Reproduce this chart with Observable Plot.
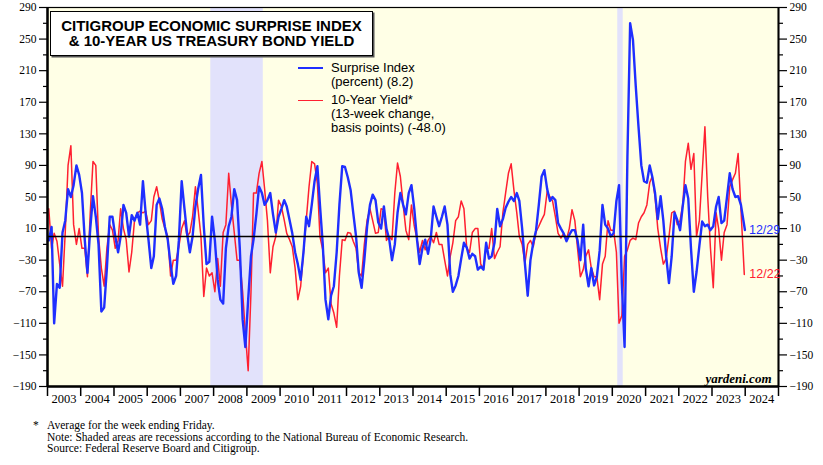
<!DOCTYPE html>
<html><head><meta charset="utf-8">
<script src="https://cdn.jsdelivr.net/npm/d3@7"></script>
<script src="https://cdn.jsdelivr.net/npm/@observablehq/plot@0.6"></script>
<style>
body{margin:0;background:#fff;}
#wrap{position:relative;width:823px;height:465px;overflow:hidden;font-family:"Liberation Sans",Arial,sans-serif;color:#000;}
#chart{position:absolute;left:0;top:0;}
.title{position:absolute;left:50px;top:11px;width:323px;height:45px;box-sizing:border-box;border:1.5px solid #000;box-shadow:1.5px 1.5px 0 #555;background:#fff;font-weight:bold;font-size:15px;line-height:15.5px;text-align:center;padding-top:5.5px;}
.leg{position:absolute;left:331px;font-size:13px;line-height:14px;white-space:nowrap;}
.legline{position:absolute;left:298px;width:25px;height:1.5px;}
.foot{position:absolute;left:47px;top:420px;font-family:"Liberation Serif","Times New Roman",serif;font-size:11.5px;line-height:11.7px;white-space:nowrap;}
.star{position:absolute;left:33px;top:419px;font-family:"Liberation Serif",serif;font-size:11.5px;}
</style></head>
<body>
<div id="wrap">
<div id="chart"></div>
<div class="title">CITIGROUP ECONOMIC SURPRISE INDEX<br>&amp; 10-YEAR US TREASURY BOND YIELD</div>
<div class="legline" style="top:67px;background:#1f2fff"></div>
<div class="leg" style="top:60.5px">Surprise Index<br>(percent) (8.2)</div>
<div class="legline" style="top:99.5px;background:#ff2030"></div>
<div class="leg" style="top:93px">10-Year Yield*<br>(13-week change,<br>basis points) (-48.0)</div>
<div class="star">*</div>
<div class="foot">Average for the week ending Friday.<br>Note: Shaded areas are recessions according to the National Bureau of Economic Research.<br>Source: Federal Reserve Board and Citigroup.</div>
</div>
<script>
// Citigroup Economic Surprise Index (percent), monthly readings Jan 2003 - Dec 2023
const surprise = [
  -5, 12, -110, -60, -65, 5, 20, 60, 50, 65, 90, 78,      // 2003
  55, -5, -46, 10, 51, 25, -10, -95, -90, -40, 25, 25,    // 2004
  0, -20, 0, 40, 30, 0, 27, 20, 30, 15, 70, 30,           // 2005
  -4, -40, -25, 40, 48, 35, 12, -4, -35, -60, -50, -5,    // 2006
  70, 35, 4, -20, 0, 38, 60, 78, 13, -35, -32, 25,        // 2007
  -5, -55, -80, -85, -15, 13, 25, 60, 46, -15, -105, -140,// 2008
  -80, -25, -4, 28, 63, 55, 40, 46, 55, 28, 5, 25,        // 2009
  35, 46, 38, 21, 4, -20, -35, -55, -20, 25, 13, 40,      // 2010
  70, 89, 40, -10, -80, -105, -75, -63, -20, 40, 89, 88,  // 2011
  75, 59, 30, 0, -46, -65, -30, 13, 40, 53, 46, 18,       // 2012
  10, 38, 10, -4, -30, -10, 30, 55, 40, 28, 55, 65,       // 2013
  35, -5, -35, -15, -4, -22, -3, 38, 25, 13, 25, 38,      // 2014
  15, -48, -70, -62, -50, -28, -8, -14, -28, -22, -25, -42, // 2015
  -38, -42, -8, -28, -25, -8, 35, 13, 22, 36, 44, 50,     // 2016
  45, 55, 45, 10, -34, -75, -30, -8, 8, 40, 76, 84,       // 2017
  60, 45, 50, 46, 17, 10, 4, -6, 2, 8, 8, -5,             // 2018
  -30, 15, -40, -63, -40, -62, -51, -18, 40, 15, 10, 0,   // 2019
  4, 45, 65, -60, -140, 100, 270, 249, 190, 139, 90, 70,  // 2020
  68, 90, 76, 55, 22, 51, 20, -25, -59, -25, 30, 21,      // 2021
  8, 40, 65, 48, -15, -70, -45, -12, 19, 13, 15, 8,       // 2022
  13, 38, 50, 17, 20, 50, 80, 60, 50, 51, 40, 8.2         // 2023
];
// 10-Year Treasury yield, 13-week change (basis points), monthly readings Jan 2003 - Dec 2023
const yieldChange = [
  35, -15, 4, -6, -35, -63, 5, 90, 115, 15, -10, 10,      // 2003
  -15, -15, -51, 30, 95, 90, 0, -40, -63, -15, 15, 8,     // 2004
  -15, -5, 35, 10, -4, -45, -20, 21, 30, 32, 30, 32,      // 2005
  15, 20, 50, 63, 45, 22, 10, 0, -50, -30, -30, -13,      // 2006
  10, 20, 0, 5, 25, 63, 34, 0, -76, -40, -50, -46,        // 2007
  -70, -28, -63, 5, 15, 80, 40, 5, -30, -30, -70, -122,   // 2008
  -170, -70, 55, 55, 80, 95, 60, 20, -46, -13, 0, 46,     // 2009
  38, 21, 4, -4, -13, -40, -80, -63, -20, 20, 63, 95,     // 2010
  92, 67, 0, -17, -46, -40, -85, -97, -115, -50, -4, -5,  // 2011
  5, 4, -6, -15, -46, -50, -10, 21, 35, 20, 4, 5,         // 2012
  35, 34, -5, 0, -4, 55, 93, 76, 40, 8, -4, 40,           // 2013
  13, -4, -20, -5, -17, -5, 0, -8, 5, -10, -10, -30,      // 2014
  -50, -25, -8, 20, 25, 45, 35, -15, -20, 5, 10, 10,      // 2015
  -35, -40, -15, -15, 10, -28, -20, -13, 30, 55, 80, 92,  // 2016
  58, 30, 0, -10, -34, -10, -5, -13, 6, 13, 21, 28,       // 2017
  57, 50, 45, 25, 4, -2, 4, -4, 10, 34, 20, -15,          // 2018
  -51, -42, -25, -17, -40, -51, -51, -80, -35, -25, 20, 8,// 2019
  8, -20, -110, -100, -25, -17, -5, -2, -4, 17, 25, 30,   // 2020
  40, 68, 76, 50, 10, -15, -35, -28, 0, 30, 32, 15,       // 2021
  20, 42, 95, 118, 85, 105, 0, 20, 80, 139, 50, -15,      // 2022
  -65, 30, 10, -30, 5, 15, 63, 72, 80, 105, 35, -48       // 2023
];
const firstYear = 2003;
const surpriseLastDate = "2023-12-29";
const yieldLastDate = "2023-12-22";
const surpriseLabel = "12/29";
const yieldLabel = "12/22";
const recessions = [
  {start: "2007-12-01", end: "2009-06-30"},
  {start: "2020-03-01", end: "2020-04-30"}
];
const yearLabels = d3.range(2003, 2025);
const yMajor = d3.range(-190, 291, 40);
const yMinor = d3.range(-170, 291, 40);

const BLUE = "#1f2fff", RED = "#ff2030";

function toSeries(vals, lastDate) {
  return vals.map((v, i) => ({
    date: i === vals.length - 1 ? new Date(lastDate + "T00:00:00Z") : new Date(Date.UTC(firstYear, i, 15)),
    value: v
  }));
}
const blueData = toSeries(surprise, surpriseLastDate);
const redData = toSeries(yieldChange, yieldLastDate);
const rec = recessions.map(r => ({start: new Date(r.start + "T00:00:00Z"), end: new Date(r.end + "T00:00:00Z")}));
const yearStarts = d3.range(yearLabels[0], yearLabels[yearLabels.length - 1] + 2).map(y => new Date(Date.UTC(y, 0, 1)));
const yearMids = yearLabels.map(y => new Date(Date.UTC(y, 6, 2)));
const xDomain = [yearStarts[0], yearStarts[yearStarts.length - 1]];
const yDomain = [yMajor[0], yMajor[yMajor.length - 1]];

const serif = '"Liberation Serif", "Times New Roman", serif';
const sans = '"Liberation Sans", Arial, sans-serif';

const chart = Plot.plot({
  width: 823, height: 410,
  marginLeft: 47, marginRight: 45, marginTop: 7, marginBottom: 24,
  style: {fontFamily: serif, fontSize: "12px", color: "#000", background: "transparent", overflow: "visible"},
  x: {type: "utc", domain: xDomain},
  y: {domain: yDomain},
  marks: [
    Plot.frame({fill: "#ffffe6", stroke: null}),
    Plot.rect(rec, {x1: "start", x2: "end", y1: yDomain[0], y2: yDomain[1], fill: "#e2e2fb"}),
    Plot.line(redData, {x: "date", y: "value", stroke: RED, strokeWidth: 1.5}),
    Plot.line(blueData, {x: "date", y: "value", stroke: BLUE, strokeWidth: 2.4}),
    Plot.ruleY([0], {stroke: "#000", strokeWidth: 1.5}),
    Plot.frame({stroke: "#000", strokeWidth: 1.2}),
    Plot.ruleX([xDomain[0]], {stroke: "#000", strokeWidth: 2.5}),
    Plot.ruleX([xDomain[1]], {stroke: "#000", strokeWidth: 2}),
    Plot.ruleY([yDomain[0]], {stroke: "#000", strokeWidth: 2.5}),
    Plot.axisY(yMajor, {anchor: "left", tickSize: 8, tickPadding: 3, fontSize: 11.5, fontFamily: serif, label: null, strokeWidth: 1.2}),
    Plot.axisY(yMinor, {anchor: "left", tickSize: 4, tickFormat: () => "", label: null, strokeWidth: 1.2}),
    Plot.axisY(yMajor, {anchor: "right", tickSize: 8, tickPadding: 3, fontSize: 11.5, fontFamily: serif, label: null, strokeWidth: 1.2}),
    Plot.axisY(yMinor, {anchor: "right", tickSize: 4, tickFormat: () => "", label: null, strokeWidth: 1.2}),
    Plot.axisX(yearStarts, {tickSize: 10, tickFormat: () => "", label: null, strokeWidth: 1.5}),
    Plot.axisX(yearMids, {tickSize: 0, tickPadding: 8, tickFormat: d => String(d.getUTCFullYear()), fontSize: 12.5, fontFamily: serif, label: null}),
    Plot.text([blueData[blueData.length - 1]], {x: "date", y: "value", text: () => surpriseLabel, dx: 4, textAnchor: "start", fill: BLUE, fontFamily: sans, fontSize: 12.5}),
    Plot.text([redData[redData.length - 1]], {x: "date", y: "value", text: () => yieldLabel, dx: 5, textAnchor: "start", fill: RED, fontFamily: sans, fontSize: 12.5}),
    Plot.text(["yardeni.com"], {frameAnchor: "bottom-right", dx: -7, dy: -4, fontFamily: serif, fontWeight: "bold", fontStyle: "italic", fontSize: 13})
  ]
});
document.getElementById("chart").appendChild(chart);
</script>
</body></html>
